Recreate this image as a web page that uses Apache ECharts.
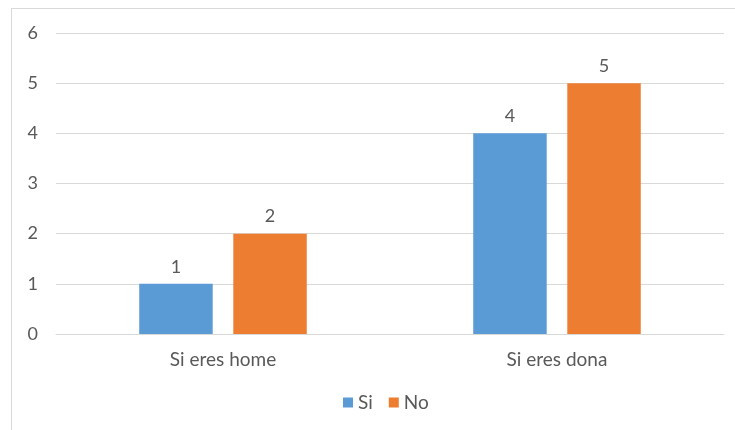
<!DOCTYPE html>
<html><head><meta charset="utf-8">
<script src="https://cdn.jsdelivr.net/npm/echarts@6/dist/echarts.min.js"></script>
<style>html,body{margin:0;padding:0;background:#fff}#c{width:735px;height:430px}</style>
</head><body><div id="c"></div>
<script>
const categories = ['Si eres home', 'Si eres dona'];
const seriesNames = ['Si', 'No'];
const siValues = [1, 4];
const noValues = [2, 5];
const yTicks = [0, 6, 1];

const chart = echarts.init(document.getElementById('c'), null, {renderer: 'canvas'});
const txt = '#595959';
const font = 'Lato, "Noto Sans", sans-serif';
chart.setOption({
  animation: false,
  graphic: [
    {type: 'line', shape: {x1: 11, y1: 8.5, x2: 735, y2: 8.5}, style: {stroke: '#d9d9d9', lineWidth: 1}},
    {type: 'line', shape: {x1: 11.5, y1: 8, x2: 11.5, y2: 430}, style: {stroke: '#d9d9d9', lineWidth: 1}}
  ],
  grid: {left: 56, right: 11, top: 33, bottom: 96},
  legend: {
    data: seriesNames, bottom: 13, left: 338, itemWidth: 10, itemHeight: 10, itemGap: 16,
    icon: 'rect', textStyle: {color: txt, fontSize: 19, fontFamily: font}
  },
  xAxis: {
    type: 'category', data: categories,
    axisLine: {lineStyle: {color: '#d9d9d9'}}, axisTick: {show: false},
    axisLabel: {color: txt, fontSize: 19, fontFamily: font, margin: 16}
  },
  yAxis: {
    type: 'value', min: yTicks[0], max: yTicks[1], interval: yTicks[2],
    axisLine: {show: false}, axisTick: {show: false},
    splitLine: {lineStyle: {color: '#d9d9d9'}},
    axisLabel: {color: txt, fontSize: 18, fontFamily: font, margin: 18}
  },
  series: [
    {name: seriesNames[0], type: 'bar', data: siValues, barWidth: '22%', barGap: '28%',
     itemStyle: {color: '#5b9bd5'},
     label: {show: true, position: 'top', color: txt, fontSize: 18, fontFamily: font, distance: 8}},
    {name: seriesNames[1], type: 'bar', data: noValues, barWidth: '22%',
     itemStyle: {color: '#ed7d31'},
     label: {show: true, position: 'top', color: txt, fontSize: 18, fontFamily: font, distance: 8}}
  ]
});
</script></body></html>
